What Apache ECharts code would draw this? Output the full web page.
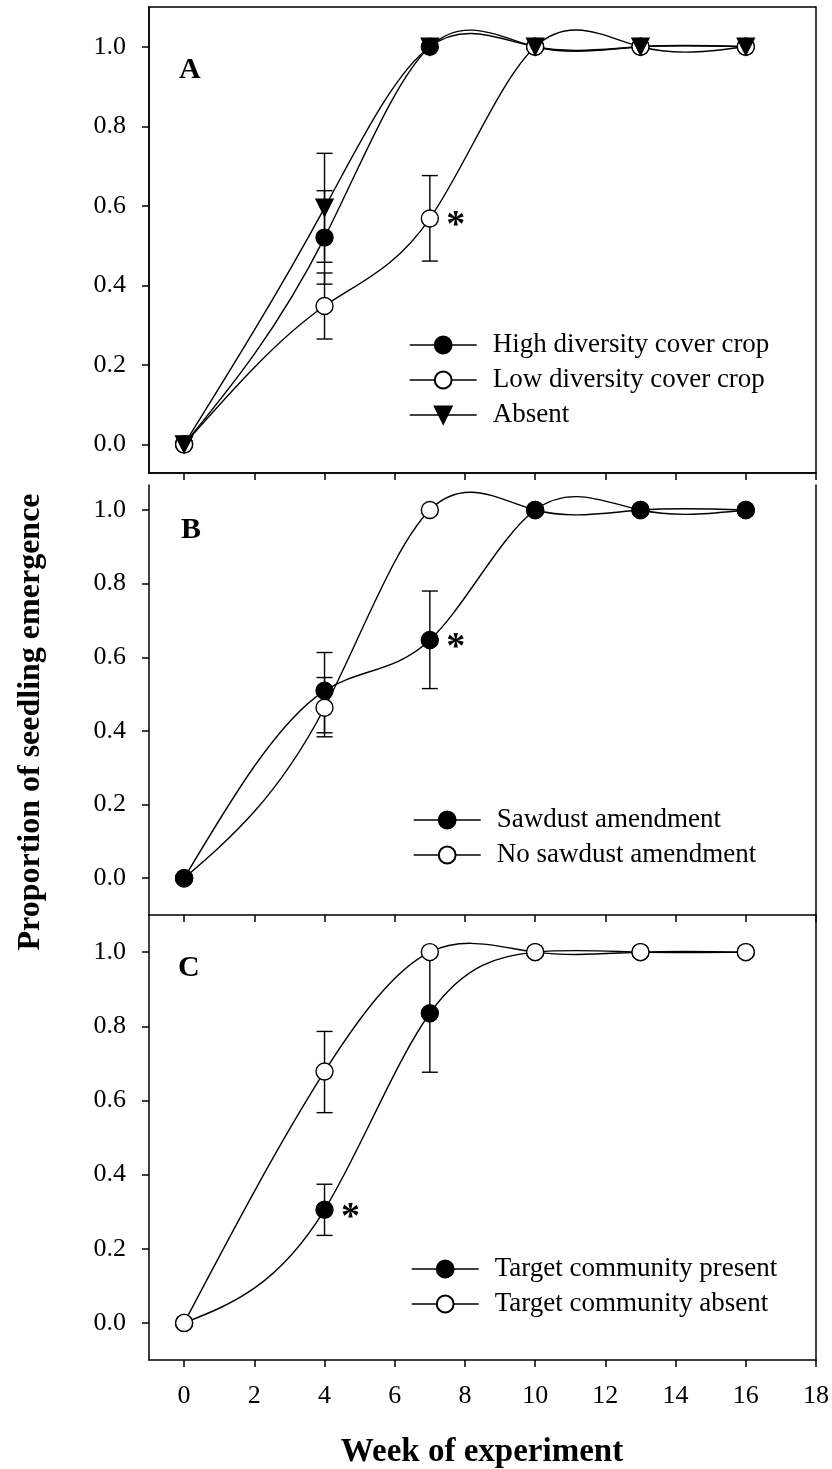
<!DOCTYPE html>
<html><head><meta charset="utf-8">
<script src="https://cdn.jsdelivr.net/npm/echarts@6/dist/echarts.min.js"></script>
<style>html,body{margin:0;padding:0;background:#fff}#c{width:832px;height:1469px}</style>
</head><body><div id="c"></div>
<script>
// ---- data ----
const weeks = [0, 4, 7, 10, 13, 16];
const xTicks = [0, 2, 4, 6, 8, 10, 12, 14, 16, 18];
const yTicks = [0, 0.2, 0.4, 0.6, 0.8, 1.0];

// Panel A
const highDiversity = [0, 0.52, 1, 1, 1, 1];
const lowDiversity  = [0, 0.348, 0.568, 1, 1, 1];
const absentCover   = [0, 0.595, 1, 1, 1, 1];
const errHigh   = [[4, 0.403, 0.638]];
const errLow    = [[4, 0.265, 0.431], [7, 0.461, 0.676]];
const errAbsent = [[4, 0.458, 0.732]];
const starA = [[7, 0.568]];

// Panel B
const sawdust   = [0, 0.509, 0.647, 1, 1, 1];
const noSawdust = [0, 0.463, 1, 1, 1, 1];
const errSawdust   = [[4, 0.395, 0.613], [7, 0.515, 0.78]];
const errNoSawdust = [[4, 0.384, 0.545]];
const starB = [[7, 0.647]];

// Panel C
const targetPresent = [0, 0.305, 0.835, 1, 1, 1];
const targetAbsent  = [0, 0.678, 1, 1, 1, 1];
const errPresent = [[4, 0.236, 0.374], [7, 0.676, 0.994]];
const errAbsentC = [[4, 0.567, 0.786]];
const starC = [[4, 0.305]];

const namesA = ['High diversity cover crop', 'Low diversity cover crop', 'Absent'];
const namesB = ['Sawdust amendment', 'No sawdust amendment'];
const namesC = ['Target community present', 'Target community absent'];

// ---- chart ----
const FONT = '"Liberation Serif","Times New Roman",serif';
const LW = 1.4;
function pairs(xs, ys) { return xs.map((x, i) => [x, ys[i]]); }

function xAxisOpt(gi, showLabels) {
  return {
    type: 'value', gridIndex: gi, min: -1, max: 18,
    axisLine: { show: true, onZero: false, lineStyle: { color: '#000', width: 1.5 } },
    axisTick: { show: true, inside: false, length: 7, customValues: xTicks, lineStyle: { color: '#000', width: 1.5 } },
    axisLabel: { show: showLabels, customValues: xTicks, margin: 23, color: '#000', fontSize: 26, fontFamily: FONT },
    splitLine: { show: false }
  };
}
function yAxisOpt(gi, min, max) {
  return {
    type: 'value', gridIndex: gi, min: min, max: max,
    axisLine: { show: true, onZero: false, lineStyle: { color: '#000', width: 1.5 } },
    axisTick: { show: true, inside: false, length: 7, customValues: yTicks, lineStyle: { color: '#000', width: 1.5 } },
    axisLabel: { show: true, customValues: yTicks, margin: 23, color: '#000', fontSize: 26, fontFamily: FONT,
      formatter: v => Number(v).toFixed(1) },
    splitLine: { show: false }
  };
}
function rightAxis(gi, min, max) {
  return {
    type: 'value', gridIndex: gi, position: 'right', min: min, max: max,
    axisLine: { show: true, onZero: false, lineStyle: { color: '#000', width: 1.5 } },
    axisTick: { show: false }, axisLabel: { show: false }, splitLine: { show: false }
  };
}
// markers (line series with hidden line; the curve is drawn by splineSeries)
function markerSeries(name, gi, ys, filled, symbol, rotate) {
  return {
    type: 'line', name: name, xAxisIndex: gi, yAxisIndex: gi, z: 3,
    data: pairs(weeks, ys),
    symbol: symbol || 'circle', symbolSize: 17, symbolRotate: rotate || 0,
    lineStyle: { color: '#000', width: LW, opacity: 0 },
    itemStyle: { color: filled ? '#000' : '#fff', borderColor: '#000', borderWidth: LW },
    emphasis: { disabled: true }, animation: false
  };
}
// natural cubic spline through the data points, drawn in pixel space via api.coord
function splineSeries(gi, ys) {
  return {
    type: 'custom', xAxisIndex: gi, yAxisIndex: gi, z: 2, silent: true,
    data: pairs(weeks, ys), encode: { x: 0, y: 1 },
    renderItem: function (params, api) {
      if (params.dataIndex !== 0) return null;
      const p = weeks.map((w, i) => api.coord([w, ys[i]]));
      const n = p.length;
      const h = [];
      for (let i = 0; i < n - 1; i++) h.push(p[i + 1][0] - p[i][0]);
      const M = new Array(n).fill(0);
      if (n > 2) {
        const a = [], b = [], c = [], d = [];
        for (let i = 1; i < n - 1; i++) {
          a.push(h[i - 1]); b.push(2 * (h[i - 1] + h[i])); c.push(h[i]);
          d.push(6 * ((p[i + 1][1] - p[i][1]) / h[i] - (p[i][1] - p[i - 1][1]) / h[i - 1]));
        }
        const m = b.length;
        for (let i = 1; i < m; i++) {
          const w = a[i] / b[i - 1];
          b[i] -= w * c[i - 1]; d[i] -= w * d[i - 1];
        }
        const sol = new Array(m);
        sol[m - 1] = d[m - 1] / b[m - 1];
        for (let i = m - 2; i >= 0; i--) sol[i] = (d[i] - c[i] * sol[i + 1]) / b[i];
        for (let i = 0; i < m; i++) M[i + 1] = sol[i];
      }
      const children = [];
      for (let i = 0; i < n - 1; i++) {
        const hi = h[i];
        const s = (p[i + 1][1] - p[i][1]) / hi;
        const d0 = s - hi * (2 * M[i] + M[i + 1]) / 6;
        const d1 = s + hi * (M[i] + 2 * M[i + 1]) / 6;
        children.push({
          type: 'bezierCurve',
          shape: {
            x1: p[i][0], y1: p[i][1], x2: p[i + 1][0], y2: p[i + 1][1],
            cpx1: p[i][0] + hi / 3, cpy1: p[i][1] + d0 * hi / 3,
            cpx2: p[i + 1][0] - hi / 3, cpy2: p[i + 1][1] - d1 * hi / 3
          },
          style: { stroke: '#000', lineWidth: LW, fill: null }
        });
      }
      return { type: 'group', children: children };
    }
  };
}
function errSeries(gi, data) {
  return {
    type: 'custom', xAxisIndex: gi, yAxisIndex: gi, z: 1, silent: true,
    data: data, encode: { x: 0, y: [1, 2] },
    renderItem: function (params, api) {
      const x = api.value(0);
      const top = api.coord([x, api.value(2)]);
      const bot = api.coord([x, api.value(1)]);
      const hw = 8;
      const st = { stroke: '#000', lineWidth: LW, fill: null };
      return { type: 'group', children: [
        { type: 'line', shape: { x1: top[0], y1: top[1], x2: bot[0], y2: bot[1] }, style: st },
        { type: 'line', shape: { x1: top[0] - hw, y1: top[1], x2: top[0] + hw, y2: top[1] }, style: st },
        { type: 'line', shape: { x1: bot[0] - hw, y1: bot[1], x2: bot[0] + hw, y2: bot[1] }, style: st }
      ] };
    }
  };
}
function starSeries(gi, data) {
  return {
    type: 'custom', xAxisIndex: gi, yAxisIndex: gi, z: 4, silent: true,
    data: data, encode: { x: 0, y: 1 },
    renderItem: function (params, api) {
      const p = api.coord([api.value(0), api.value(1)]);
      return { type: 'text', x: p[0] + 26, y: p[1] + 8,
        style: { text: '*', font: 'bold 38px ' + FONT, fill: '#000', align: 'center', verticalAlign: 'middle' } };
    }
  };
}
function legendOpt(names, left, top) {
  return {
    data: names, orient: 'vertical', left: left, top: top, padding: 0,
    itemWidth: 67, itemHeight: 21, itemGap: 8, selectedMode: false,
    lineStyle: { color: '#000', width: LW, opacity: 1 },
    textStyle: { fontSize: 27, fontFamily: FONT, color: '#000', padding: [0, 0, 0, 11] }
  };
}

const option = {
  animation: false,
  backgroundColor: '#fff',
  grid: [
    { left: 149, right: 16, top: 7, height: 466, show: true, borderColor: '#000', borderWidth: 1.5 },
    { left: 149, right: 16, top: 485, height: 430 },
    { left: 149, right: 16, top: 915, height: 445 }
  ],
  xAxis: [xAxisOpt(0, false), xAxisOpt(1, false), xAxisOpt(2, true)],
  yAxis: [yAxisOpt(0, -0.072, 1.1), yAxisOpt(1, -0.1, 1.068), yAxisOpt(2, -0.1, 1.1),
          rightAxis(1, -0.1, 1.068), rightAxis(2, -0.1, 1.1)],
  legend: [legendOpt(namesA, 409, 331.5), legendOpt(namesB, 413, 806.5), legendOpt(namesC, 411, 1255.5)],
  series: [
    errSeries(0, errHigh), errSeries(0, errLow), errSeries(0, errAbsent),
    splineSeries(0, highDiversity), splineSeries(0, lowDiversity), splineSeries(0, absentCover),
    markerSeries(namesA[0], 0, highDiversity, true),
    markerSeries(namesA[1], 0, lowDiversity, false),
    markerSeries(namesA[2], 0, absentCover, true, 'triangle', 180),
    starSeries(0, starA),
    errSeries(1, errSawdust), errSeries(1, errNoSawdust),
    splineSeries(1, sawdust), splineSeries(1, noSawdust),
    markerSeries(namesB[1], 1, noSawdust, false),
    markerSeries(namesB[0], 1, sawdust, true),
    starSeries(1, starB),
    errSeries(2, errPresent), errSeries(2, errAbsentC),
    splineSeries(2, targetPresent), splineSeries(2, targetAbsent),
    markerSeries(namesC[0], 2, targetPresent, true),
    markerSeries(namesC[1], 2, targetAbsent, false),
    starSeries(2, starC)
  ],
  graphic: [
    { type: 'text', left: 179, top: 55, style: { text: 'A', font: 'bold 30px ' + FONT, fill: '#000' } },
    { type: 'text', left: 181, top: 515, style: { text: 'B', font: 'bold 30px ' + FONT, fill: '#000' } },
    { type: 'text', left: 178, top: 953, style: { text: 'C', font: 'bold 30px ' + FONT, fill: '#000' } },
    { type: 'text', x: 31, y: 722, rotation: Math.PI / 2,
      style: { text: 'Proportion of seedling emergence', font: 'bold 32px ' + FONT, fill: '#000', align: 'center', verticalAlign: 'middle' } },
    { type: 'text', x: 482, y: 1452,
      style: { text: 'Week of experiment', font: 'bold 33px ' + FONT, fill: '#000', align: 'center', verticalAlign: 'middle' } }
  ]
};
const chart = echarts.init(document.getElementById('c'), null, { renderer: 'canvas' });
chart.setOption(option);
</script></body></html>
